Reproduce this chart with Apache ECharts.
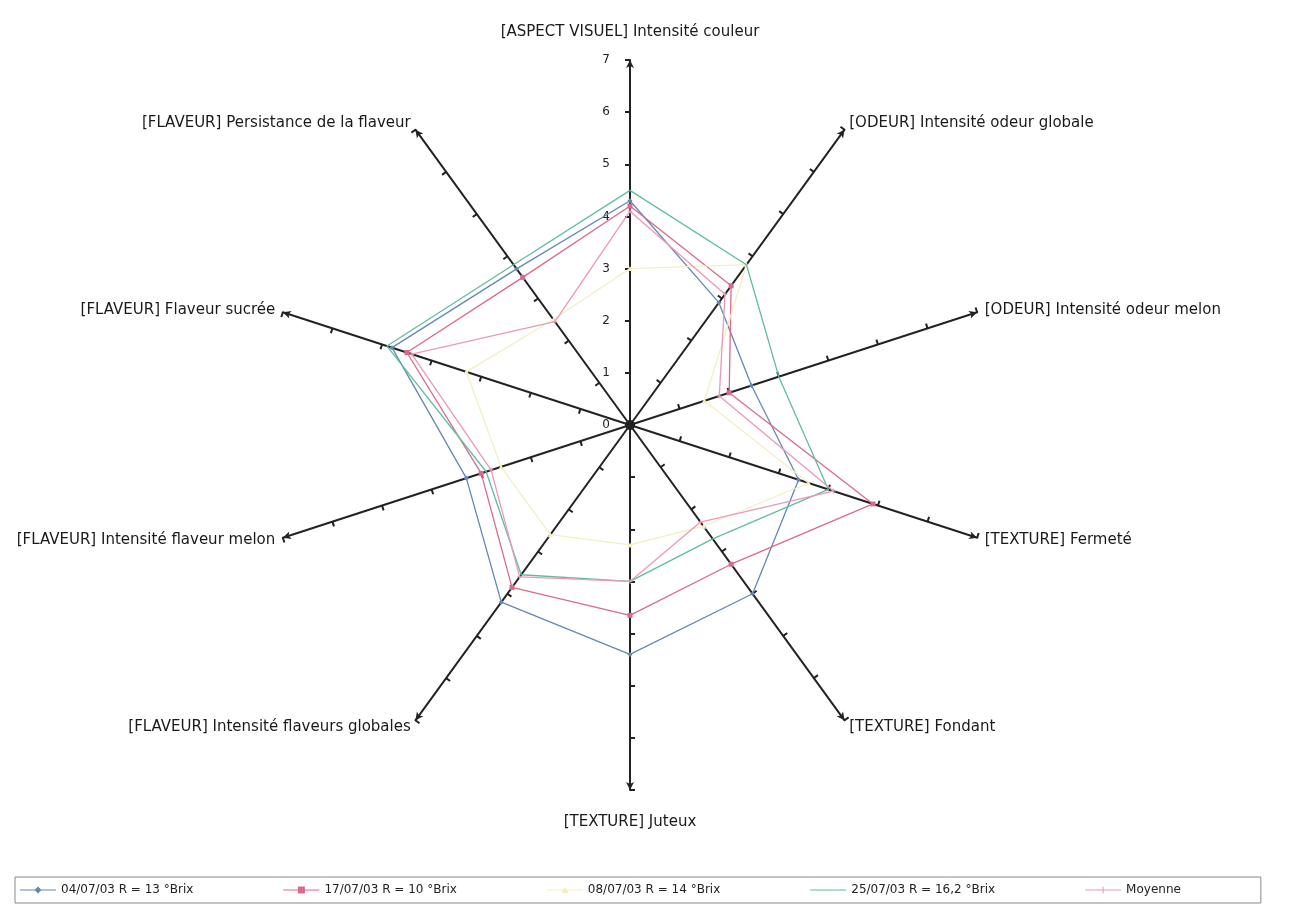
<!DOCTYPE html>
<html lang="fr">
<head>
<meta charset="UTF-8">
<title>Profil sensoriel melon</title>
<script src="https://cdn.jsdelivr.net/npm/echarts@6/dist/echarts.min.js"></script>
<style>
  html, body { margin: 0; padding: 0; background: #fff; }
  #chart { width: 1295px; height: 912px; }
</style>
</head>
<body>
<div id="chart"></div>
<script>
// axes du radar, dans l'ordre trigonométrique à partir du haut
var axes = [
  '[ASPECT VISUEL] Intensité couleur',
  '[FLAVEUR] Persistance de la flaveur',
  '[FLAVEUR] Flaveur sucrée',
  '[FLAVEUR] Intensité flaveur melon',
  '[FLAVEUR] Intensité flaveurs globales',
  '[TEXTURE] Juteux',
  '[TEXTURE] Fondant',
  '[TEXTURE] Fermeté',
  '[ODEUR] Intensité odeur melon',
  '[ODEUR] Intensité odeur globale'
];
var axisMax = 7;

var seriesNames = [
  '04/07/03 R = 13 °Brix',
  '17/07/03 R = 10 °Brix',
  '08/07/03 R = 14 °Brix',
  '25/07/03 R = 16,2 °Brix',
  'Moyenne'
];

var s1 = [4.3, 3.7, 4.8, 3.3, 4.2, 4.4, 4.0, 3.4, 2.45, 2.9];
var s2 = [4.2, 3.5, 4.5, 3.0, 3.85, 3.65, 3.3, 4.9, 2.0, 3.3];
var s3 = [3.0, 2.5, 3.3, 2.6, 2.6, 2.3, 2.4, 3.6, 1.5, 3.8];
var s4 = [4.5, 3.8, 4.9, 2.9, 3.55, 3.0, 2.7, 4.0, 3.0, 3.8];
var moyenne = [4.1, 2.45, 4.4, 2.8, 3.6, 3.0, 2.3, 4.1, 1.8, 3.1];

var colors = ['#6488b0', '#db6a8a', '#f3efc2', '#5fbd9f', '#eb98b9'];
var symbols = ['diamond', 'rect', 'triangle', 'none',
  'path://M4,0H6V4H10V6H6V10H4V6H0V4H4Z'];
// icônes de légende : trait + marqueur
var legendIcons = [
  'path://M0,3.5H36V4.5H0Z M14.5,4L18,0.5L21.5,4L18,7.5Z',
  'path://M0,3.5H36V4.5H0Z M14.5,0.5H21.5V7.5H14.5Z',
  'path://M0,3.5H36V4.5H0Z M14.5,7L18,1L21.5,7Z',
  'path://M0,3.5H36V4.5H0Z',
  'path://M0,3.5H36V4.5H0Z M17.5,0.5H18.5V7.5H17.5Z'
];

var chart = echarts.init(document.getElementById('chart'));

var indicator = axes.map(function (name, i) {
  var ind = { name: name, min: 0, max: axisMax };
  if (i === 0) {
    ind.axisLabel = { show: true }; // graduations seulement sur l'axe vertical
    ind.nameGap = 20;
  }
  if (i === 5) {
    ind.nameGap = 25;
  }
  return ind;
});

var allData = [s1, s2, s3, s4, moyenne];

var option = {
  backgroundColor: '#fff',
  color: colors,
  animation: false,
  legend: {
    left: 15,
    top: 877,
    itemGap: 90,
    itemWidth: 36,
    itemHeight: 8,
    padding: [7, 80, 7, 5],
    borderColor: '#888',
    borderWidth: 1,
    textStyle: { fontFamily: 'DejaVu Sans', fontSize: 12, color: '#222' },
    data: seriesNames.map(function (n, i) {
      return { name: n, icon: legendIcons[i] };
    })
  },
  radar: {
    center: [630, 425],
    radius: 365,
    startAngle: 90,
    shape: 'polygon',
    splitNumber: 7,
    nameGap: 8,
    axisName: { color: '#1a1a1a', fontFamily: 'DejaVu Sans', fontSize: 15 },
    axisLine: {
      symbol: ['none', 'arrow'],
      symbolSize: [6, 8],
      lineStyle: { color: '#222', width: 2 }
    },
    axisTick: { show: true, length: 5, lineStyle: { color: '#222', width: 2 } },
    axisLabel: { show: false, color: '#222', fontFamily: 'DejaVu Sans', fontSize: 12, margin: 20 },
    splitLine: { show: false },
    splitArea: { show: false },
    indicator: indicator
  },
  series: allData.map(function (vals, i) {
    return {
      type: 'radar',
      name: seriesNames[i],
      symbol: symbols[i],
      symbolSize: 5,
      z: 3 + i,
      lineStyle: { width: 1.3, color: colors[i] },
      itemStyle: { color: colors[i] },
      data: [{ value: vals, name: seriesNames[i] }]
    };
  })
};

chart.setOption(option);
</script>
</body>
</html>
